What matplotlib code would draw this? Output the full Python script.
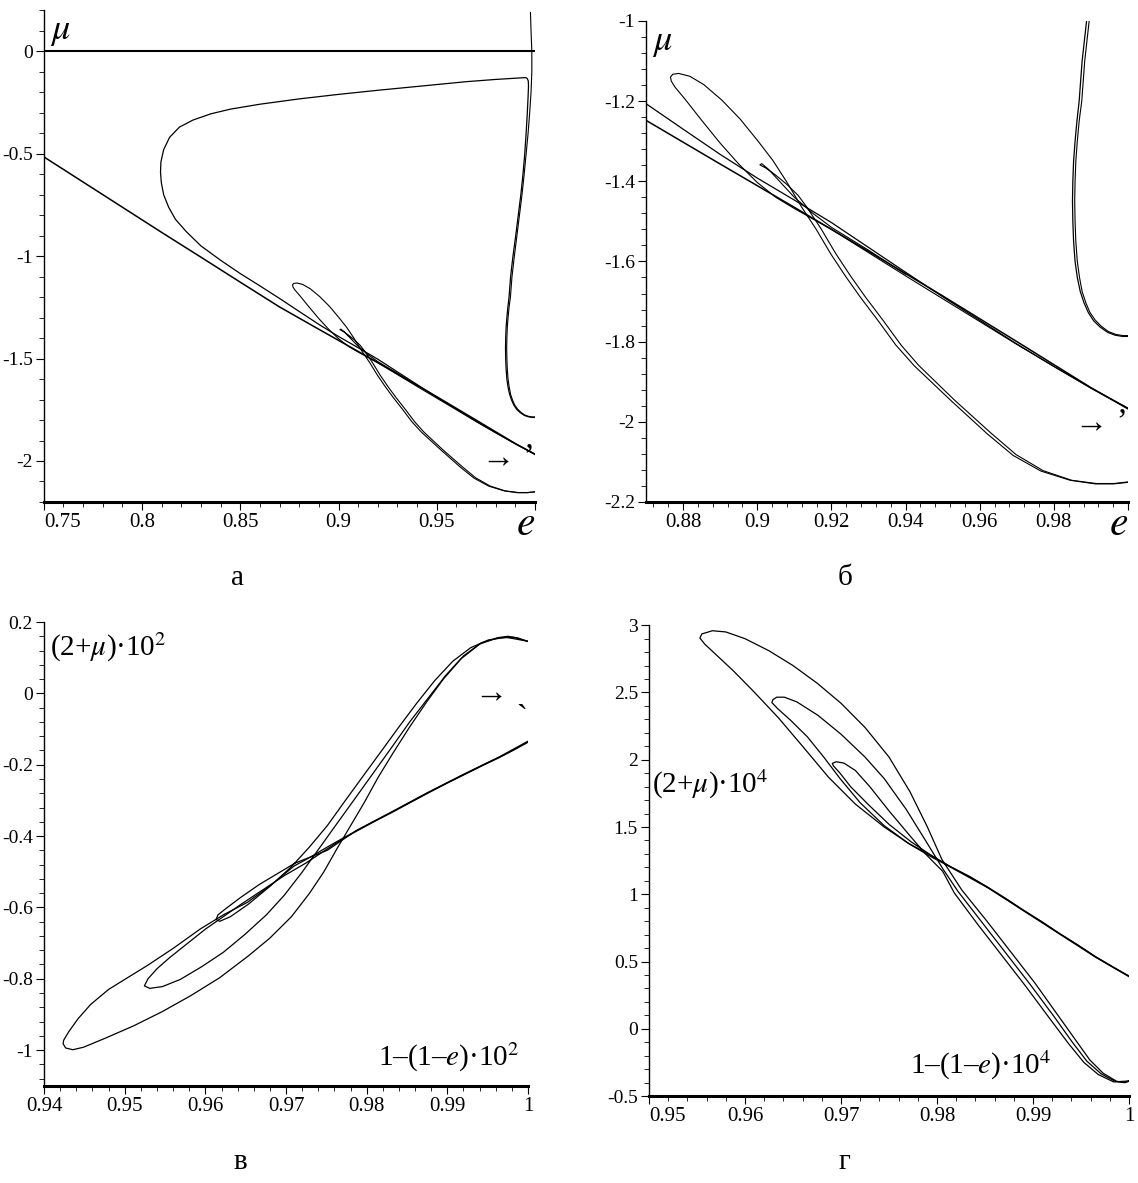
import matplotlib
matplotlib.use("Agg")
import matplotlib.pyplot as plt
from matplotlib.ticker import FixedLocator, FixedFormatter, MultipleLocator

plt.rcParams['font.family'] = ['Liberation Serif', 'DejaVu Serif']
plt.rcParams['mathtext.fontset'] = 'stix'
plt.rcParams['axes.unicode_minus'] = False

# ---------------- panels а and б : mu against e (б is a closer look) ----------------
zero_e = [0.75, 1.0]
zero_mu = [0.0, 0.0]

# thin branch coming down at the right edge (right line of the double curve)
top_e = [0.9977, 0.998, 0.9984, 0.9984, 0.998, 0.9973, 0.9965, 0.9955, 0.9945, 0.9934,
         0.9921, 0.9908, 0.9895, 0.9883, 0.9875, 0.9868, 0.9863, 0.9859, 0.9857, 0.9856,
         0.9857, 0.9859, 0.9863, 0.9869, 0.9876, 0.9886, 0.9897, 0.9911, 0.9928, 0.9947,
         0.9967, 0.9986, 1.0]
top_mu = [0.19, 0.1, 0.0, -0.1, -0.2, -0.3, -0.4, -0.5, -0.6, -0.7,
          -0.8, -0.9, -1.0, -1.1, -1.2, -1.25, -1.30, -1.35, -1.40, -1.45,
          -1.50, -1.55, -1.60, -1.64, -1.675, -1.703, -1.727, -1.746, -1.762, -1.775,
          -1.782, -1.785, -1.785]

# big loop: right double curve, upper branch, tip near 0.81, lower branch into the bundle
big_e = [1.0, 0.9985, 0.9965, 0.9945, 0.9925, 0.9907, 0.9893, 0.9881, 0.9871, 0.9863,
         0.9857, 0.9853, 0.9851, 0.985, 0.9851, 0.9853, 0.9857, 0.9862, 0.9868, 0.9876,
         0.9888, 0.9902, 0.9915, 0.9928, 0.9939, 0.9948, 0.9955, 0.9961, 0.9965, 0.9967,
         0.9966, 0.9961, 0.9953, 0.98, 0.965, 0.95, 0.935, 0.92, 0.90, 0.88,
         0.86, 0.845, 0.835, 0.826, 0.819, 0.814, 0.811, 0.8096, 0.8094, 0.8098,
         0.811, 0.8135, 0.817, 0.8225, 0.83, 0.84, 0.85, 0.86, 0.87, 0.88,
         0.89, 0.90, 0.91, 0.92, 0.93, 0.94, 0.95, 0.96, 0.97, 0.98,
         0.99, 1.0]
big_mu = [-1.787, -1.787, -1.784, -1.777, -1.764, -1.748, -1.728, -1.703, -1.675, -1.64,
          -1.60, -1.55, -1.50, -1.45, -1.40, -1.35, -1.30, -1.25, -1.20, -1.10,
          -1.0, -0.9, -0.8, -0.7, -0.6, -0.5, -0.4, -0.3, -0.22, -0.17,
          -0.145, -0.133, -0.128, -0.137, -0.148, -0.162, -0.176, -0.19, -0.21, -0.232,
          -0.258, -0.282, -0.305, -0.335, -0.37, -0.42, -0.48, -0.54, -0.59, -0.64,
          -0.70, -0.76, -0.82, -0.88, -0.95, -1.02, -1.085, -1.145, -1.2065, -1.27,
          -1.333, -1.392, -1.447, -1.503, -1.565, -1.627, -1.688, -1.747, -1.806, -1.862,
          -1.916, -1.966]

# long nearly straight line from the left edge
line_e = [0.75, 0.77, 0.79, 0.81, 0.83, 0.85, 0.87, 0.89, 0.91, 0.93, 0.95, 0.97, 0.99, 1.0]
line_mu = [-0.515, -0.638, -0.761, -0.884, -1.005, -1.127, -1.248, -1.357, -1.465, -1.575,
           -1.686, -1.80, -1.915, -1.968]

# second loop (tip near 0.877)
small_e = [1.0, 0.9961, 0.9912, 0.9844, 0.9765, 0.969, 0.962, 0.9521, 0.9472, 0.9423,
           0.9374, 0.9326, 0.9277, 0.9238, 0.9198, 0.9159, 0.912, 0.9081, 0.9042, 0.9003,
           0.8954, 0.8905, 0.8856, 0.8818, 0.8788, 0.8772, 0.8766, 0.8768, 0.8778, 0.8805,
           0.885, 0.89, 0.895, 0.90, 0.905, 0.91, 0.92, 0.93, 0.94, 0.95,
           0.96, 0.97, 0.98, 0.99, 1.0]
small_mu = [-2.151, -2.155, -2.155, -2.146, -2.123, -2.084, -2.03, -1.946, -1.903, -1.86,
            -1.809, -1.748, -1.688, -1.637, -1.581, -1.52, -1.465, -1.404, -1.348, -1.301,
            -1.245, -1.198, -1.159, -1.138, -1.131, -1.133, -1.14, -1.15, -1.165, -1.195,
            -1.248, -1.305, -1.357, -1.403, -1.44, -1.468, -1.52, -1.578, -1.636, -1.693,
            -1.75, -1.807, -1.862, -1.916, -1.967]

# third, narrow loop (tip near 0.90)
tail_e = [1.0, 0.9962, 0.9914, 0.9848, 0.9771, 0.9698, 0.963, 0.9532, 0.9484, 0.9436,
          0.9388, 0.934, 0.9291, 0.9252, 0.9212, 0.9173, 0.9134, 0.911, 0.908, 0.905,
          0.9025, 0.9007, 0.9012, 0.903, 0.906, 0.91, 0.915, 0.92, 0.93, 0.94]
tail_mu = [-2.15, -2.154, -2.154, -2.146, -2.122, -2.082, -2.028, -1.946, -1.903, -1.86,
           -1.809, -1.748, -1.688, -1.637, -1.581, -1.52, -1.465, -1.435, -1.408, -1.385,
           -1.368, -1.359, -1.356, -1.37, -1.40, -1.44, -1.48, -1.515, -1.572, -1.632]

# ---------------- panel в : (2+mu)*10^2 against 1-(1-e)*10^2 ----------------
v_outer_x = [1.0, 0.99822, 0.99644, 0.99422, 0.992, 0.98978, 0.98756, 0.98533, 0.98311, 0.98089,
             0.97867, 0.97689, 0.9751, 0.9731, 0.971, 0.968, 0.9652, 0.9623, 0.9594, 0.956,
             0.9528, 0.9505, 0.948, 0.94578, 0.94422, 0.94311, 0.94244, 0.94236, 0.94267, 0.94356,
             0.94489, 0.94756, 0.95111, 0.95467, 0.95822, 0.96178, 0.96533, 0.968, 0.97067, 0.97289,
             0.97467, 0.9763, 0.978, 0.9797, 0.9814, 0.9833, 0.9853, 0.9874, 0.9895, 0.9917,
             0.994, 0.9962, 0.9975, 0.9988, 1.0]
v_outer_y = [-0.1355, -0.158, -0.179, -0.203, -0.228, -0.253, -0.279, -0.306, -0.333, -0.359,
             -0.386, -0.408, -0.431, -0.458, -0.484, -0.54, -0.586, -0.62, -0.66, -0.715,
             -0.763, -0.795, -0.83, -0.872, -0.912, -0.947, -0.972, -0.982, -0.994, -0.999,
             -0.992, -0.967, -0.932, -0.892, -0.847, -0.797, -0.736, -0.686, -0.626, -0.561,
             -0.501, -0.436, -0.371, -0.306, -0.236, -0.166, -0.095, -0.025, 0.04, 0.097,
             0.138, 0.156, 0.16, 0.155, 0.145]

v_mid_x = [1.0, 0.99822, 0.99644, 0.99422, 0.992, 0.98978, 0.98756, 0.98533, 0.98311, 0.98089,
           0.97867, 0.97689, 0.97511, 0.97244, 0.96978, 0.96711, 0.96444, 0.96222, 0.96, 0.95778,
           0.95556, 0.954, 0.95289, 0.95244, 0.95311, 0.95467, 0.95689, 0.95956, 0.96222, 0.96489,
           0.96756, 0.96978, 0.972, 0.97422, 0.97644, 0.97867, 0.98089, 0.98311, 0.98533, 0.98756,
           0.98978, 0.992, 0.99422, 0.99644, 0.99822, 1.0]
v_mid_y = [-0.137, -0.159, -0.18, -0.204, -0.229, -0.254, -0.28, -0.307, -0.334, -0.36,
           -0.387, -0.41, -0.436, -0.476, -0.511, -0.551, -0.591, -0.626, -0.661, -0.701,
           -0.741, -0.772, -0.80, -0.82, -0.827, -0.822, -0.802, -0.766, -0.726, -0.676,
           -0.621, -0.566, -0.501, -0.431, -0.361, -0.291, -0.221, -0.151, -0.08, -0.015,
           0.05, 0.105, 0.142, 0.156, 0.157, 0.146]

v_in_x = [1.0, 0.99644, 0.992, 0.98756, 0.98311, 0.97867, 0.97511, 0.97111, 0.96889, 0.96667,
          0.96444, 0.96267, 0.96156, 0.96133, 0.96178, 0.96311, 0.96533, 0.968, 0.97067, 0.97289,
          0.97511, 0.97733, 0.97955, 0.98178, 0.984, 0.98622, 0.98844, 0.99067, 0.99289, 0.99511,
          0.99733, 1.0]
v_in_y = [-0.134, -0.178, -0.227, -0.278, -0.332, -0.385, -0.44, -0.476, -0.506, -0.536,
          -0.571, -0.601, -0.621, -0.634, -0.639, -0.626, -0.591, -0.541, -0.486, -0.431,
          -0.371, -0.301, -0.232, -0.163, -0.094, -0.027, 0.036, 0.09, 0.128, 0.15,
          0.157, 0.146]

# ---------------- panel г : (2+mu)*10^4 against 1-(1-e)*10^4 ----------------
g_outer_x = [1.0, 0.9984, 0.9965, 0.9947, 0.9928, 0.9909, 0.989, 0.9872, 0.9853, 0.9834,
             0.9815, 0.9796, 0.9772, 0.9745, 0.9715, 0.9687, 0.966, 0.9635, 0.961, 0.9588,
             0.957, 0.9558, 0.9553, 0.9555, 0.9566, 0.958, 0.960, 0.9625, 0.965, 0.9675,
             0.970, 0.9725, 0.975, 0.9772, 0.979, 0.9805, 0.9826, 0.9852, 0.9877, 0.9902,
             0.9926, 0.9945, 0.9959, 0.9973, 0.9987, 0.9996, 1.0]
g_outer_y = [0.39, 0.455, 0.535, 0.62, 0.705, 0.795, 0.88, 0.965, 1.05, 1.13,
             1.20, 1.27, 1.37, 1.50, 1.67, 1.87, 2.10, 2.31, 2.50, 2.66,
             2.78, 2.86, 2.905, 2.935, 2.959, 2.95, 2.90, 2.81, 2.70, 2.57,
             2.42, 2.24, 2.02, 1.76, 1.50, 1.26, 1.03, 0.80, 0.57, 0.34,
             0.10, -0.09, -0.23, -0.33, -0.39, -0.40, -0.39]

g_mid_x = [1.0, 0.9984, 0.9965, 0.9947, 0.9928, 0.9909, 0.989, 0.9872, 0.9853, 0.9834,
           0.9815, 0.9796, 0.977, 0.9745, 0.972, 0.9699, 0.9682, 0.9665, 0.9648, 0.9634,
           0.9628, 0.9629, 0.9633, 0.9641, 0.9654, 0.9676, 0.970, 0.9725, 0.9745, 0.9768,
           0.9788, 0.9806, 0.9822, 0.9847, 0.9872, 0.9897, 0.9922, 0.9941, 0.9956, 0.9971,
           0.9986, 0.9995, 1.0]
g_mid_y = [0.392, 0.457, 0.537, 0.622, 0.707, 0.797, 0.882, 0.967, 1.052, 1.132,
           1.202, 1.28, 1.38, 1.51, 1.68, 1.86, 2.02, 2.17, 2.29, 2.38,
           2.425, 2.446, 2.465, 2.465, 2.43, 2.33, 2.19, 2.02, 1.86, 1.63,
           1.40, 1.19, 1.02, 0.79, 0.56, 0.33, 0.09, -0.10, -0.24, -0.335,
           -0.392, -0.40, -0.386]

g_in_x = [1.0, 0.9965, 0.9928, 0.989, 0.9853, 0.9815, 0.9796, 0.9773, 0.975, 0.9728,
          0.971, 0.9699, 0.9692, 0.9691, 0.9695, 0.9703, 0.9715, 0.973, 0.975, 0.977,
          0.9788, 0.9806, 0.9818, 0.9842, 0.9867, 0.9892, 0.9917, 0.9937, 0.9953, 0.9968,
          0.9984, 1.0]
g_in_y = [0.388, 0.533, 0.703, 0.878, 1.048, 1.198, 1.28, 1.39, 1.52, 1.67,
          1.80, 1.90, 1.955, 1.973, 1.985, 1.975, 1.92, 1.80, 1.62, 1.45,
          1.30, 1.17, 1.01, 0.78, 0.55, 0.32, 0.08, -0.11, -0.25, -0.34,
          -0.395, -0.388]

# tick values and labels
a_xticks = [0.75, 0.8, 0.85, 0.9, 0.95, 1.0]
a_xlabels = ['0.75', '0.8', '0.85', '0.9', '0.95', '']
a_yticks = [0, -0.5, -1, -1.5, -2]
a_ylabels = ['0', '-0.5', '-1', '-1.5', '-2']
b_xticks = [0.88, 0.9, 0.92, 0.94, 0.96, 0.98, 1.0]
b_xlabels = ['0.88', '0.9', '0.92', '0.94', '0.96', '0.98', '']
b_yticks = [-1, -1.2, -1.4, -1.6, -1.8, -2, -2.2]
b_ylabels = ['-1', '-1.2', '-1.4', '-1.6', '-1.8', '-2', '-2.2']
v_xticks = [0.94, 0.95, 0.96, 0.97, 0.98, 0.99, 1.0]
v_xlabels = ['0.94', '0.95', '0.96', '0.97', '0.98', '0.99', '1']
v_yticks = [0.2, 0, -0.2, -0.4, -0.6, -0.8, -1]
v_ylabels = ['0.2', '0', '-0.2', '-0.4', '-0.6', '-0.8', '-1']
g_xticks = [0.95, 0.96, 0.97, 0.98, 0.99, 1.0]
g_xlabels = ['0.95', '0.96', '0.97', '0.98', '0.99', '1']
g_yticks = [3, 2.5, 2, 1.5, 1, 0.5, 0, -0.5]
g_ylabels = ['3', '2.5', '2', '1.5', '1', '0.5', '0', '-0.5']


def style_axes(ax, xlim, ylim, xticks, xlabels, yticks, ylabels, xminor, yminor, first_left=False):
    ax.set_xlim(*xlim)
    ax.set_ylim(*ylim)
    ax.spines['top'].set_visible(False)
    ax.spines['right'].set_visible(False)
    ax.spines['left'].set_linewidth(1.0)
    ax.spines['bottom'].set_linewidth(2.2)
    ax.xaxis.set_major_locator(FixedLocator(xticks))
    ax.xaxis.set_major_formatter(FixedFormatter(xlabels))
    ax.yaxis.set_major_locator(FixedLocator(yticks))
    ax.yaxis.set_major_formatter(FixedFormatter(ylabels))
    ax.xaxis.set_minor_locator(MultipleLocator(xminor))
    ax.yaxis.set_minor_locator(MultipleLocator(yminor))
    ax.tick_params(which='major', direction='out', length=6, width=0.8, pad=2)
    ax.tick_params(which='minor', direction='out', length=3.5, width=0.6)
    ax.tick_params(axis='x', labelsize=15)
    ax.tick_params(axis='y', labelsize=14)
    ax.set_facecolor('none')
    if first_left:
        # Maple pushes the first x label off the corner
        ax.get_xticklabels()[0].set_horizontalalignment('left')


def draw(ax, xs, ys, lw=0.9):
    ax.plot(xs, ys, color='black', lw=lw, solid_joinstyle='round')


fig = plt.figure(figsize=(11.38, 11.83), dpi=100)

# а and б share the same curves
ax_a = fig.add_axes([0.0385, 0.5757, 0.4316, 0.4155])
ax_b = fig.add_axes([0.5677, 0.5757, 0.4236, 0.4066])
for ax in (ax_a, ax_b):
    draw(ax, zero_e, zero_mu, lw=1.5)
    draw(ax, top_e, top_mu, lw=0.8)
    draw(ax, big_e, big_mu, lw=0.9)
    draw(ax, line_e, line_mu, lw=1.1)
    draw(ax, small_e, small_mu, lw=0.8)
    draw(ax, tail_e, tail_mu, lw=0.8)

style_axes(ax_a, (0.75, 1.0), (-2.2, 0.2), a_xticks, a_xlabels, a_yticks, a_ylabels, 0.01, 0.1,
           first_left=True)
style_axes(ax_b, (0.87, 1.0), (-2.2, -1.0), b_xticks, b_xlabels, b_yticks, b_ylabels, 0.004, 0.04)

ax_v = fig.add_axes([0.0387, 0.0822, 0.4253, 0.392])
for xs, ys in ((v_outer_x, v_outer_y), (v_mid_x, v_mid_y), (v_in_x, v_in_y)):
    draw(ax_v, xs, ys, lw=0.9)
style_axes(ax_v, (0.94, 1.0), (-1.1, 0.2), v_xticks, v_xlabels, v_yticks, v_ylabels, 0.002, 0.04)

ax_g = fig.add_axes([0.5703, 0.0735, 0.4218, 0.398])
for xs, ys in ((g_outer_x, g_outer_y), (g_mid_x, g_mid_y), (g_in_x, g_in_y)):
    draw(ax_g, xs, ys, lw=0.9)
style_axes(ax_g, (0.95, 1.0), (-0.5, 3.0), g_xticks, g_xlabels, g_yticks, g_ylabels, 0.002, 0.1,
           first_left=True)

# axis names
for ax in (ax_a, ax_b):
    ax.text(0.012, 0.99, r'$\mu$', transform=ax.transAxes, fontsize=26, ha='left', va='top')
    ax.text(1.0, -0.008, r'$e$', transform=ax.transAxes, fontsize=30, ha='right', va='top')

ax_v.text(0.9408, 0.13, '(2+$\\mu$)·10$^2$', fontsize=21, ha='left', va='center')
ax_v.text(0.9990, -1.02, '1–(1–$e$)·10$^2$', fontsize=21, ha='right', va='center')
ax_g.text(0.9503, 1.82, '(2+$\\mu$)·10$^4$', fontsize=21, ha='left', va='center')
ax_g.text(0.9772, -0.27, '1–(1–$e$)·10$^4$', fontsize=21, ha='left', va='center')

# small arrows near the right edge
ax_a.text(1.0, -1.99, '\u2192 \u02bc', fontsize=24, ha='right', va='center')
ax_b.text(1.0, -2.005, '\u2192 \u02bc', fontsize=24, ha='right', va='center')
ax_v.text(1.0, 0.0, '\u2192 \u02ce', fontsize=24, ha='right', va='center')

# panel captions
fig.text(0.2083, 0.5114, 'а', fontsize=21, ha='center', va='center')
fig.text(0.7425, 0.5114, 'б', fontsize=21, ha='center', va='center')
fig.text(0.2109, 0.0178, 'в', fontsize=21, ha='center', va='center')
fig.text(0.7425, 0.0178, 'г', fontsize=21, ha='center', va='center')

fig.savefig('out.png', dpi=100, facecolor='white')
